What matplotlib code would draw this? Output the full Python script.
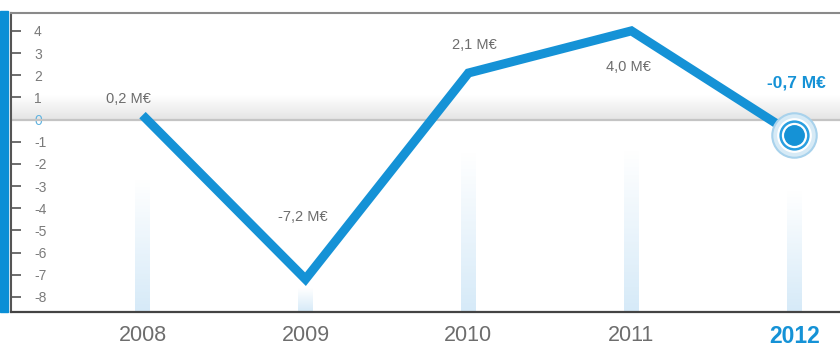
import numpy as np
import matplotlib
matplotlib.use("Agg")
import matplotlib.pyplot as plt
from matplotlib.colors import LinearSegmentedColormap
from matplotlib.patches import Rectangle

plt.rcParams['font.family'] = ['Liberation Sans', 'DejaVu Sans']
plt.rcParams['axes.unicode_minus'] = False

# data
years = [2008, 2009, 2010, 2011, 2012]
result = [0.2, -7.2, 2.1, 4.0, -0.7]
labels = ["0,2 M€", "-7,2 M€", "2,1 M€", "4,0 M€", "-0,7 M€"]
bar_tops = [-2.7, -7.6, -1.5, -1.4, -3.2]   # pale decorative columns
yticks = list(range(-8, 5))

BLUE = "#1592d6"
GREY = "#6d6d6d"

fig = plt.figure(figsize=(8.4, 3.49), dpi=100)
ax = fig.add_axes([0.0125, 0.106, 0.9875, 0.857])
XL = (2007.19, 2012.28)
YL = (-8.68, 4.81)

# pale columns with a fade towards the top
col_cmap = LinearSegmentedColormap.from_list("col", ["#ffffff", "#d6eaf8"])
grad = np.linspace(0, 1, 64).reshape(-1, 1)
for yr, top in zip(years, bar_tops):
    ax.imshow(grad, extent=(yr - 0.045, yr + 0.045, YL[0], top), origin="upper",
              cmap=col_cmap, aspect="auto", zorder=1)

# zero line with soft shadow above
sh_cmap = LinearSegmentedColormap.from_list("sh", ["#ffffff", "#e4e4e4"])
ax.imshow(grad, extent=(XL[0], XL[1], 0, 1.1), origin="upper",
          cmap=sh_cmap, aspect="auto", zorder=1)
ax.axhline(0, color="#c4c4c4", lw=1.6, zorder=2)
ax.set_xlim(*XL)
ax.set_ylim(*YL)

# main line
ax.plot(years, result, color=BLUE, lw=6.5, solid_joinstyle="miter",
        solid_capstyle="butt", zorder=4)

# highlighted last point
ax.plot(years[-1], result[-1], "o", ms=32, mfc="#d6eaf6", mec="#a8d2ec", mew=1.5, zorder=5)
ax.plot(years[-1], result[-1], "o", ms=24, mfc="white", mec="white", zorder=6)
ax.plot(years[-1], result[-1], "o", ms=20, mfc="white", mec="#2a9fe0", mew=1.8, zorder=7)
ax.plot(years[-1], result[-1], "o", ms=14, mfc=BLUE, mec=BLUE, zorder=8)

# value labels
offsets = [(-14, 16), (-3, 62), (6, 28), (-3, -36), (2, 52)]
for i, (yr, v, t) in enumerate(zip(years, result, labels)):
    last = i == len(years) - 1
    ax.annotate(t, (yr, v), xytext=offsets[i], textcoords="offset pixels",
                ha="center", va="center",
                fontsize=12.5 if last else 10.5,
                fontweight="bold" if last else "normal",
                color=BLUE if last else GREY, zorder=9)

# axes styling
ax.spines["right"].set_visible(False)
ax.spines["left"].set_color("#555555")
ax.spines["left"].set_linewidth(1.5)
ax.spines["bottom"].set_color("#444444")
ax.spines["bottom"].set_linewidth(1.6)
ax.spines["top"].set_color("#8a8a8a")
ax.spines["top"].set_linewidth(1.5)

ax.set_yticks(yticks)
ax.set_yticklabels([str(v) for v in yticks])
ax.tick_params(axis="y", direction="in", length=7, width=1.2, color="#555555",
               pad=-17, labelsize=10, labelcolor="#7a7a7a")
for lab in ax.get_yticklabels():
    lab.set_horizontalalignment("left")
    if lab.get_text() == "0":
        lab.set_color("#5fb3e0")

ax.set_xticks(years)
ax.set_xticklabels([str(y) for y in years])
ax.tick_params(axis="x", length=0, pad=9, labelsize=15.5, labelcolor=GREY)
xl = ax.get_xticklabels()[-1]
xl.set_color(BLUE)
xl.set_fontweight("bold")
xl.set_fontsize(16.5)

# blue band on the far left
fig.patches.append(Rectangle((0, 0.106), 0.0095, 0.862, transform=fig.transFigure,
                             color="#0a8fd6", zorder=0))

fig.savefig("out.png", dpi=100)
